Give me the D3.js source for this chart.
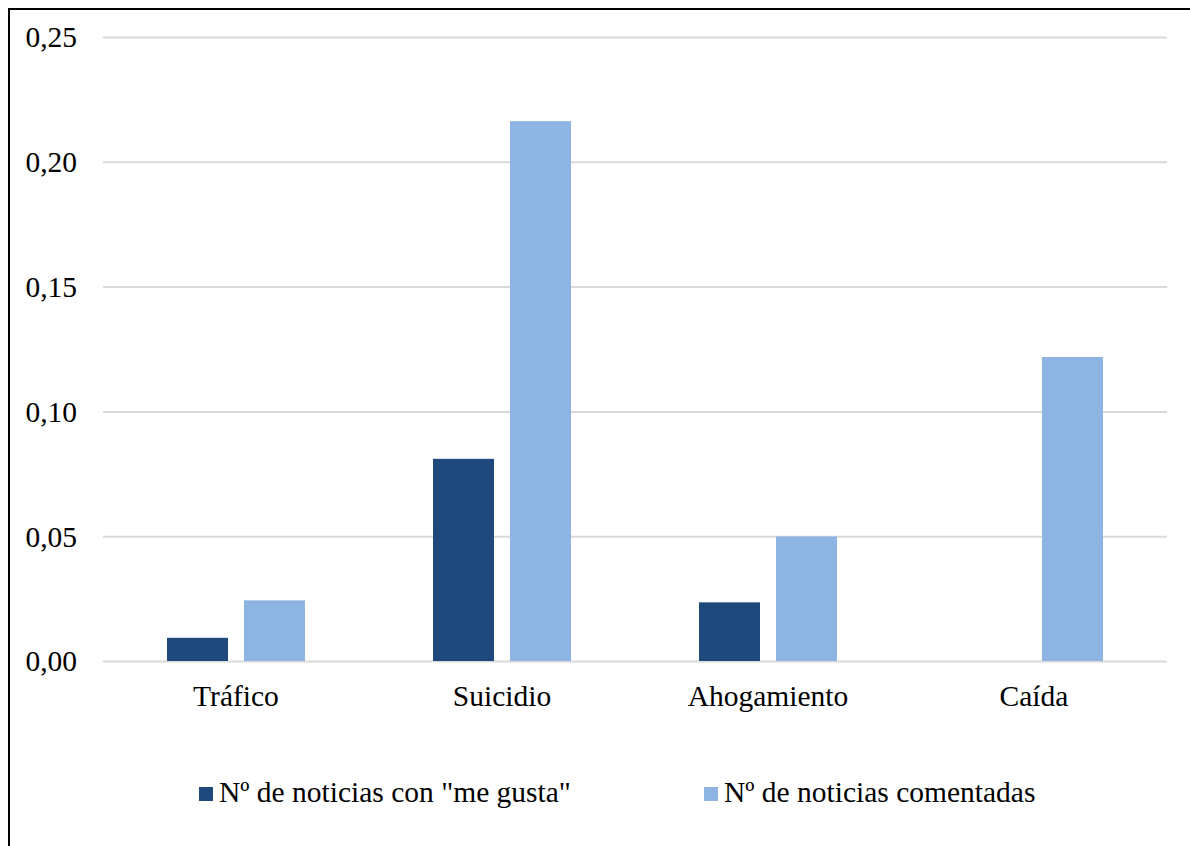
<!doctype html>
<html>
<head>
  <meta charset="utf-8">
  <title>Noticias - D3</title>
</head>
<body style="margin:0">
  <svg width="1190" height="846" font-family="Liberation Serif"></svg>

  <script src="https://cdn.jsdelivr.net/npm/d3@7/dist/d3.min.js"></script>
  <script>
    var categories = ["Tráfico", "Suicidio", "Ahogamiento", "Caída"];
    var seriesNames = ["Nº de noticias con \"me gusta\"", "Nº de noticias comentadas"];
    var likes = [0.0093, 0.081, 0.0235, 0];
    var comments = [0.0243, 0.2163, 0.0499, 0.1218];
    var yTicks = [0, 0.05, 0.10, 0.15, 0.20, 0.25];
    var colors = ["#1F497D", "#8EB4E3"];

    var FONT = '"Liberation Serif"';
    var FSIZE = 29.5;

    var svg = d3.select('svg');

    // outer frame (only left and top edges are visible in the picture)
    svg.append('path')
      .attr('d', 'M9,846 V9 H1190')
      .attr('fill', 'none')
      .attr('stroke', '#000')
      .attr('stroke-width', 2);

    var x0 = d3.scaleBand().domain(categories).range([103, 1167]).paddingInner(0).paddingOuter(0);
    var x1 = d3.scaleBand().domain([0, 1]).range([64, x0.bandwidth() - 64]).paddingInner(0.208);
    var y = d3.scaleLinear().domain([0, 0.25]).range([661, 37]);

    var fmt = v => d3.format('.2f')(v).replace('.', ',');

    // gridlines
    svg.append('g')
      .attr('transform', 'translate(103,0)')
      .call(d3.axisLeft(y).tickValues(yTicks).tickSize(-1064).tickFormat(''))
      .call(g => g.select('.domain').remove())
      .call(g => g.selectAll('line').attr('stroke', '#D9D9D9').attr('stroke-width', 2));

    // y labels
    svg.append('g').selectAll('text').data(yTicks).enter()
      .append('text')
      .attr('x', 77)
      .attr('y', d => y(d))
      .attr('dy', '0.35em')
      .attr('text-anchor', 'end')
      .attr('font-size', FSIZE)
      .style('font-family', FONT)
      .text(fmt);

    var rows = categories.map((c, i) => ({ cat: c, vals: [likes[i], comments[i]] }));

    var groups = svg.append('g').selectAll('g').data(rows).enter()
      .append('g')
      .attr('transform', d => 'translate(' + x0(d.cat) + ',0)');

    groups.selectAll('rect').data(d => d.vals.map((v, k) => ({ k: k, v: v }))).enter()
      .filter(d => d.v > 0)
      .append('rect')
      .attr('x', d => x1(d.k))
      .attr('width', x1.bandwidth())
      .attr('y', d => y(d.v))
      .attr('height', d => y(0) - y(d.v))
      .attr('fill', d => colors[d.k]);

    // x labels
    svg.append('g').selectAll('text').data(categories).enter()
      .append('text')
      .attr('x', d => x0(d) + x0.bandwidth() / 2)
      .attr('y', 706)
      .attr('text-anchor', 'middle')
      .attr('font-size', FSIZE)
      .style('font-family', FONT)
      .text(d => d);

    // legend
    var legendX = [199, 704];
    var legend = svg.append('g').selectAll('g').data(seriesNames).enter()
      .append('g')
      .attr('transform', (d, i) => 'translate(' + legendX[i] + ',787)');
    legend.append('rect')
      .attr('width', 14).attr('height', 14)
      .attr('fill', (d, i) => colors[i]);
    legend.append('text')
      .attr('x', 20).attr('y', 15)
      .attr('font-size', FSIZE)
      .style('font-family', FONT)
      .text(d => d);
  </script>
</body>
</html>
